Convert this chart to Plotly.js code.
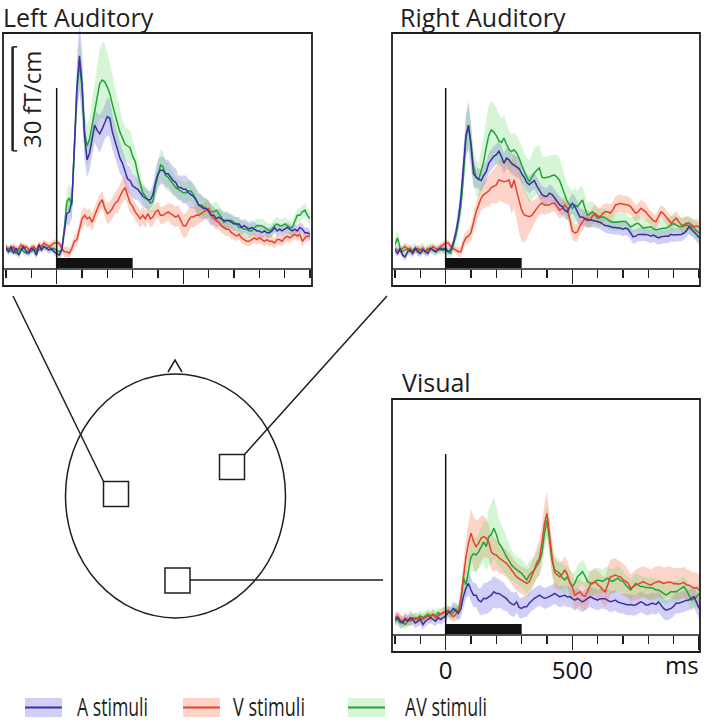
<!DOCTYPE html>
<html>
<head>
<meta charset="utf-8">
<script src="https://cdn.plot.ly/plotly-3.0.1.min.js"></script>
<style>html,body{margin:0;padding:0;background:#fff}</style>
</head>
<body>
<div id="chart" style="width:708px;height:723px"></div>
<script>
// time axis in ms
const time = [-200,-190,-180,-170,-160,-150,-140,-130,-120,-110,
  -100,-90,-80,-70,-60,-50,-40,-30,-20,-10,
  0,10,20,30,40,50,60,70,80,90,
  100,110,120,130,140,150,160,170,180,190,
  200,210,220,230,240,250,260,270,280,290,
  300,310,320,330,340,350,360,370,380,390,
  400,410,420,430,440,450,460,470,480,490,
  500,510,520,530,540,550,560,570,580,590,
  600,610,620,630,640,650,660,670,680,690,
  700,710,720,730,740,750,760,770,780,790,
  800,810,820,830,840,850,860,870,880,890,
  900,910,920,930,940,950,960,970,980,990,
  1000];

// ---- Left Auditory (fT/cm) ----
const leftA = [0.5,-0.5,1,-1,0.5,-1.5,0,1,-0.5,-1,
  0.5,0,-1.5,1.5,0,1,0.5,0,0.5,-0.5,
  -1,-1.5,0,5,10.5,11,14,30,47,56,
  48,33,26,28,32,36,34.5,33.5,35,37,
  38.5,38,34,31.5,29,26.5,25,22.5,20.5,20,
  18.5,18,17.5,16.5,15.5,15,14.5,14.5,16,19.5,
  22,23,23,22,22,21,20,19.5,18,18,
  17.5,17.5,16.5,16,15.5,14.5,13,12.5,12,12,
  11,10,10,9,9.5,9,8.5,8.5,8.5,8,
  7.5,7.5,7.5,6.5,7,6.5,6,6.5,6,5.5,
  5.5,5,5.5,5,5,5.5,6.5,5.5,6,5.5,
  6,6.5,6,5.5,6,5.5,6.5,6,5,5,
  4.5];
const leftV = [1,0,0.5,1,0,0.5,1.5,0.5,1,0,
  0.5,1,0,1.5,1,2,1.5,1,1.5,2,
  2,2,0.5,-0.5,-0.5,-1,0.5,2.5,3,6,
  9,10,9,9.5,8,10,12,13.5,14.5,12,
  10.5,11,12,13.5,14,15.5,17,18,16,13.5,
  12.5,11,10,9,10,9,10.5,9,9.5,11,
  11.5,10,10,10.5,11,10.5,10,9.5,10,8.5,
  7,7,8.5,9.5,9.5,10,10,10.5,11,11.5,
  12,10,9,8.5,8,7,6.5,6,6,5,
  4.5,4,4.5,3.5,3,2.5,2.5,3,3.5,3,
  3.5,3,2.5,3,2.5,2.5,2,3,3,2.5,
  3.5,4,3.5,4,4.5,4,4.5,2.5,3.5,4,
  4];
const leftAV = [0,0.5,-0.5,0.5,-1,0,0.5,-0.5,-1,0,
  -0.5,0.5,-1,0,0.5,1,0.5,1,0,0.5,
  0,-0.5,0,6,14,15,13,28,46,54,
  47,34,30,32,36,40,44,48,49,48.5,
  47,45,42,39,36.5,34,32,30.5,30,29.5,
  27,25.5,22,18.8,16.5,15.5,14.5,13.5,14,18.5,
  21.5,24.5,24,21.5,21,20,19,18,17.5,17,
  16.5,16.5,17,17,16,14.5,13,13,12.5,12,
  11.5,11,11,11.5,10.5,9.5,8,8.5,8.5,8.5,
  8,7.5,6.5,6.5,6,6,5.5,5.5,6.5,7,
  7,7,6.5,6,5.5,6,7,7.5,7,7,
  7.5,7,6.5,6.5,8.5,10,10,11,11.5,10,
  9];
const leftA_sem = [1,1.2,1,0.8,1,1.2,1,1,0.8,1,
  1,1.2,1,1,0.8,1,1,1.2,1,1,
  1,1.2,1.5,2,3,4,4.5,5,8,10,
  10,7,5,5,5,5,5,5.5,5,5,
  5.5,5.5,5,5,4.5,4.5,4,4,4,4,
  3.5,3.5,3,3,3,3,2.5,2.5,3,3.5,
  4,4,4,4,4,4,4,4,3.5,3.5,
  4,4,4,4,3.5,3.5,3.5,3.5,3,3,
  3,3,2.5,2.5,2.5,2.5,2.5,2.5,2,2,
  2,2,2,2,2,2,2,2,2,2,
  2,2,1.5,1.5,1.5,1.5,1.5,1.5,1.5,1.5,
  1.5,1.5,1.5,1.5,1.5,1.5,1.5,1.5,1.5,1.5,
  1.5];
const leftV_sem = [1,1,1,1,1,1,1,1,1,1,
  1,1,1,1,1,1,1,1,1,1,
  1,1,1,1.5,1.5,1.5,1.5,2,2,2,
  2.5,2.5,2.5,2.5,2.5,2.5,2.5,2.5,2.5,2.5,
  3,3,3,3,3.5,3.5,3.5,3.5,3,3,
  2.5,2.5,2.5,2.5,2.5,2.5,2.5,2.5,2.5,2.5,
  2.5,2.5,2.5,2.5,2.5,3,3,3,3,3,
  3.5,3.5,3.5,3,3,3,2.5,2.5,2.5,2.5,
  2.5,2.5,2.5,2.5,2,2,2,2,2,2,
  1.5,1.5,1.5,1.5,1.5,1.5,1.5,1.5,1.5,1.5,
  1.5,1.5,1.5,1.5,1.5,1.5,1.5,1.5,1.5,1.5,
  1.5,1.5,1.5,1.5,1.5,1.5,1.5,1.5,1.5,1.5,
  1.5];
const leftAV_sem = [1,1,1,1,1,1,1,1,1,1,
  1,1,1,1,1,1,1,1,1,1,
  1,1,1.5,2,3,4,4.5,5,6,7,
  7,6,6,6,7,8,9,10,11,11,
  10,9,8.5,8,7,6,5.5,5,5,5,
  4.5,4,4,3.5,3,3,3,3,3,3.5,
  4.5,4.5,4.5,4,4,3.5,3.5,3,3,3,
  3,3,3,3,3,3,3,3,3,3,
  2.5,2.5,2.5,2.5,2.5,2.5,2.5,2.5,2,2,
  2,2,2,2,2,2,2,2,2,2,
  2,2,2,2,2,2,2,2,2,2,
  2,2,2,2,2,2,2,2,2,2,
  2];

// ---- Right Auditory ----
const rightA = [0,-1,0.5,-1.5,-2,-0.5,0,-1,0.5,-0.5,
  -1,0,-0.5,-1,0.5,0,-0.5,0,0.5,0,
  0.5,-0.5,0,2,5,9,15,24,33,36,
  30,22,21,20.5,20,21.5,22.5,25,26,27,
  27.5,28.5,27,25,26.5,26,25,24.5,24,23.5,
  22,21,19.5,18.8,19.5,20,18.5,17.3,16,15.5,
  15.5,16.4,16,15,14,13,12.5,11.5,11,12.5,
  13.5,12.5,11,9.5,9.5,9,8.5,8.7,8.5,8.5,
  8.2,8,7.5,7,7,6.7,6.5,6.5,6.5,6.3,
  6,6.3,6,5,3.8,4,4.5,4.5,4.6,4.5,
  4.3,4,4.3,4,3.5,3.8,4,4,4,4.5,
  4.3,4.3,4.5,4.5,4.9,5.5,6.7,6,5.3,4.5,
  3.5];
const rightV = [0.5,0,-0.5,0.5,1,0,0.5,-0.5,0,0.5,
  0,0.5,-0.5,0.5,0,1,0.5,0,1,1.5,
  2,2,1,0.5,0,-0.5,-0.5,2,3.5,4,
  5,8,11,13,15,16,16.5,17,18,18.5,
  18.8,20.2,20,19.7,19.8,20.2,17.9,20.2,17,14,
  11.5,10.1,9.8,9.6,10,11,12,13,13.5,13,
  13,13,13.5,13.5,12.5,11.5,12,13,12,8.5,
  5.5,4.9,5.2,7,8,9.2,9,8.7,9.8,10.6,
  9.8,9.6,10.5,11,11,10.6,11.5,13,13.2,13.5,
  13.2,13,13,12.5,11.5,10.6,11,12,11.5,11,
  10,9.2,8.5,8.2,9.5,11,10.5,9.6,8.5,7.7,
  8.5,9.2,8.2,7.2,7.3,7.7,7.7,7.2,6.7,7,
  6.5];
const rightAV = [1.5,3.5,0.5,-0.5,0,0.5,-0.5,0,0.5,-0.5,
  0,0.5,-0.5,0,0.5,0,-0.5,0.5,0,0.5,
  0,-0.5,-1,1.5,4,8,12.5,21,32,36,
  31,24,21,20.2,22.5,25.5,29.5,33,34.6,34,
  33,31.5,31,32.3,30.5,29,28.4,28.9,28,26.5,
  24.5,22.5,21,19.7,21,22.2,23,23.7,21,20.8,
  21,21.1,21.5,21.6,21,20,18,16,14,13,
  12,13,12.5,13.5,14.4,12,10,10.5,11,10,
  9.2,9.4,9.6,9.3,8.7,8.2,8,7.9,8,8.2,
  8.2,8.2,7.5,6.7,7,7.5,7.7,7,6.3,6.5,
  6.7,6.7,6.2,5.8,6,6.2,6.3,6.3,6.8,7.3,
  7.7,7.2,6.8,6.7,7,7.2,7,6.6,6.3,5.5,
  4.9];
const rightA_sem = [1,1,1,1,1,1,1,1,1,1,
  1,1,1,1,1,1,1,1,1,1,
  1,1,1,1.5,2,3,4,5,6,7,
  6,4,3,3,3,3,3,3,3,3,
  3,3,3,3,3,3,3,3,3,3,
  2.5,2.5,2.5,2.5,2.5,2.5,2.5,2.5,2.5,2.5,
  2.5,2.5,2.5,2.5,2.5,2.5,2.5,2.5,2.5,2.5,
  3,3,3,2.5,2.5,2,2,2,2,2,
  2,2,2,2,2,2,2,2,2,2,
  2,2,2,2,2,2,2,2,2,2,
  2,2,2,2,2,2,2,2,2,2,
  2,2,2,2,2,2,2,2,2,2,
  2];
const rightV_sem = [1,1,1,1,1,1,1,1,1,1,
  1,1,1,1,1,1,1,1,1,1,
  1,1,1,1,1,1.5,1.5,2,2,2,
  2.5,3,3,3.5,3.5,4,4,4.5,4.5,5,
  5.5,6,6,6,6.5,7,7.5,8,8.5,9,
  9,8,6.5,5,4,3.5,3,3,3,3,
  2.5,2.5,2.5,2.5,2.5,2.5,2.5,2.5,2.5,2.5,
  2.5,2.5,2.5,2.5,2.5,2.5,2.5,2.5,2.5,2.5,
  2.5,2.5,2.5,2.5,2.5,2.5,2.5,2.5,2.5,2.5,
  2.5,2.5,2.5,2.5,2.5,2.5,2.5,2.5,2.5,2.5,
  2,2,2,2,2,2,2,2,2,2,
  2,2,2,2,2,2,2,2,2,2,
  2];
const rightAV_sem = [1.5,2.5,1.5,1.5,1.5,1.5,1.5,1.5,1.5,1.5,
  1.5,1.5,1.5,1.5,1.5,1.5,1.5,1.5,1.5,1.5,
  1.5,1.5,1.5,2,2.5,3,4,5,6,6,
  6,5,5,5,6,7,8,8.5,8.5,8,
  8,7.5,7,6.5,6,5.5,5,5,5,5,
  5.5,5.5,5.5,6,6.5,7,7,6.5,6,6,
  6,6,6,6,6.5,6.5,6,5.5,5,5,
  5,5,4.5,4.5,4,4,3.5,3.5,3,3,
  2.5,2.5,2.5,2.5,2.5,2.5,2.5,2.5,2.5,2.5,
  2.5,2.5,2.5,2.5,2.5,2.5,2.5,2.5,2.5,2.5,
  2.5,2.5,2.5,2.5,2.5,2.5,2.5,2.5,2.5,2.5,
  2.5,2.5,2.5,2.5,2.5,2.5,2.5,2.5,2.5,2.5,
  2.5];

// ---- Visual ----
const visualA = [-1,-0.5,-1.5,-2,-1,-1.5,-0.5,-1,-2,-1.5,
  -1,-2.5,-1.5,-1,-0.5,-1,-1.5,-0.5,-1,-0.5,
  0,1,1.2,2.2,1.5,0.8,2,5.6,8,9.4,
  7.5,6,6,4.5,4.1,5.1,5,5.6,6,7,
  6.5,6.5,6,5.6,5,4.1,3.5,3.2,4.1,2.5,
  2.2,2.7,2.7,3.7,4.5,5.1,5.5,6,5.5,5.1,
  5.3,5.6,6,6.5,6,5.5,5.8,6,5.5,5.6,
  5,4.6,5.1,4.6,4.1,4.5,5.1,5.6,5.2,4.8,
  4.6,5,5.1,5,4.5,4.1,4.3,4.6,4,3.8,
  3.7,3.5,3.2,3.3,3.1,3.2,3.6,4.1,3.8,3.2,
  3.2,3.6,3.7,3.3,4.1,3,2.2,1.7,1.9,2.2,
  2.8,3.7,3.7,4,4.1,4.5,4.6,5,5.6,4,
  2.2];
const visualV = [-0.5,0,-1,-1.5,-0.5,-1,-1.5,-1,-0.5,-1,
  -0.5,-1,-0.5,0,-0.5,0.5,-0.5,0,0.5,1,
  1.2,1.7,0.5,-0.2,0.5,1.2,5,11.3,17,21,
  23.9,21.5,20,21,22.4,22.9,22.5,21.4,18.5,17.8,
  17.6,16.8,16.2,15.7,15.2,14.3,13.3,12,11.3,10.8,
  10.4,9.8,9.4,9.9,11.5,13.3,15.5,16.6,21,26.7,
  29.6,23,17,12.5,11.8,11.3,12,13.3,12,9.5,
  8.5,6,6.5,7,6,5.6,7,8.9,9.5,9.9,
  9,8.5,7.5,7,9,11.3,11.5,11.8,11.5,11.3,
  10.5,9.9,9.5,8,8.5,8.9,9.2,9.6,9.9,9.5,
  9.2,8.9,9.4,9.7,10,9.8,9.4,9.6,9.8,9.7,
  9.3,9.4,9.2,9.4,9.7,9,8.9,8.5,8,8.2,
  7.5];
const visualAV = [-1.5,-1,-2,-1.5,-2.5,-1.5,-1,-0.5,-1,-0.5,
  0,-0.5,0,0.5,0,0.5,0,1,0.5,1,
  1,1.5,0.5,1,2,1.2,4,11,9,13,
  17,18,17.6,18.5,20,21.4,20,22.9,23.5,25.3,
  23.5,21,20,18.5,17.1,16,14.7,14,13.3,12.8,
  12.3,11.5,10.4,11.8,12.5,13.3,14.5,15.7,18.1,23.9,
  27.7,22,16,13.3,12.8,12.3,11,10.4,11.3,10,
  8.5,9.5,11.3,12,12.8,11.5,9.9,9.5,9.4,10,
  10.4,10.2,10,10.5,10.9,10.2,10,10.5,10.9,10.2,
  10,9,8.2,7.5,8.5,9.4,9,8.5,8.5,8.2,
  8.2,8,8,7.5,7.5,7,6.5,6,6.5,7,
  7,7,7.5,8,8.5,7.5,6,4.6,5,5.5,
  6.5];
const visualA_sem = [1.5,1.5,2,1.5,1.5,1.5,2,1.5,1.5,1.5,
  1.5,1.5,1.5,1.5,1.5,1.5,1.5,1.5,1.5,1.5,
  1.5,1.5,1.5,2,2,2,2.5,3,3,3.5,
  3.5,3.5,3.5,3.5,4,4.5,4.5,4.5,4.5,4.5,
  4.5,4,4,4,3.5,3.5,3.5,3.5,3,3,
  3,3,3,3,3,3,3,3,3,3,
  3,3,3,3,3,3,3,3,3,3,
  3,3,3,3,3,3,3,3,3,3,
  3,3,3,3,3,3,3,3,3,3,
  3,3,3,3,3,3,3,3,3,3,
  3,3,3,3,3,3,3,3,3,3,
  3,3,3,3,3,3,3,3,3,3,
  3];
const visualV_sem = [1.5,1.5,1.5,1.5,1.5,1.5,1.5,1.5,1.5,1.5,
  1.5,1.5,1.5,1.5,1.5,1.5,1.5,1.5,1.5,1.5,
  1.5,1.5,1.5,1.5,2,2,3,4,5,6,
  7,7.5,7.5,7,6.5,6,5.5,5,5,5,
  4.5,4.5,4,4,4,4,4,4,4,4,
  4,4,4,4,4,4,4.5,5,5.5,6,
  6,5.5,5,4.5,4,4,4,4,4,4,
  4,4,4,4,4,4,4,4,4,4,
  4,4,4,4.5,5,5,5,5,4.5,4.5,
  4.5,4.5,4,4,4,4.5,4.5,4.5,4.5,4.5,
  4.5,4.5,4.5,4.5,4.5,4.5,4.5,4.5,4.5,4.5,
  4.5,4.5,4.5,4.5,4.5,4.5,4.5,4.5,4.5,4.5,
  4.5];
const visualAV_sem = [1.5,1.5,1.5,1.5,1.5,1.5,1.5,1.5,1.5,1.5,
  1.5,1.5,1.5,1.5,1.5,1.5,1.5,1.5,1.5,1.5,
  1.5,1.5,2,2,2,2,3,4,4,4.5,
  4.5,5,5,5,5.5,6,7,8,9,9,
  8,7,6.5,6,5.5,5,4.5,4,4,4,
  4,4,4,4,4,4,4,4,4.5,5,
  5,4.5,4,4,4,4,4,4,3.5,3.5,
  3.5,3.5,3.5,3.5,3.5,3.5,3.5,3.5,3.5,3.5,
  3.5,3.5,3.5,3.5,3.5,3.5,3.5,3.5,3.5,3.5,
  3,3,3,3,3,3,3,3,3,3,
  3,3,3,3,3,3,3,3,3,3,
  3,3,3,3,3,3,3,3,3,3,
  3];

const stimulus = [0, 300];           // ms, black bar
const scaleBar = 30;                 // fT/cm
const tickVals = [0, 500, 1000];
const tickText = ['0', '500', ''];
const legendNames = ['A stimuli', 'V stimuli', 'AV stimuli'];

// ---- styling ----
const W = 708, H = 723;
const px = v => v / W;
const py = v => 1 - v / H;
const FONT = 'Open Sans, sans-serif';
const INK = '#1e1e1e';

const colA = '#3b2fa5', colV = '#e8412b', colAV = '#22a33a';
const fillA = 'rgba(105,95,225,0.30)', fillV = 'rgba(245,125,85,0.32)', fillAV = 'rgba(95,215,95,0.26)';

// y scale: 30 fT/cm = 104 px, baseline 19 px above axis line
const k = 30 / 104;
const yRange = [-19 * k, 235 * k];
const onsetTop = 162 * k;
const barY = [-18 * k, -8 * k];

const panels = [
  {title: 'Left Auditory', A: leftA, V: leftV, AV: leftAV, sA: leftA_sem, sV: leftV_sem, sAV: leftAV_sem,
   xa: 'x', ya: 'y', xd: [6, 310], yd: [15, 269], box: [3, 33, 312, 286], tpos: [2, 17], labels: false},
  {title: 'Right Auditory', A: rightA, V: rightV, AV: rightAV, sA: rightA_sem, sV: rightV_sem, sAV: rightAV_sem,
   xa: 'x2', ya: 'y2', xd: [395, 699], yd: [15, 269], box: [392, 33, 700, 286], tpos: [399, 17], labels: false},
  {title: 'Visual', A: visualA, V: visualV, AV: visualAV, sA: visualA_sem, sV: visualV_sem, sAV: visualAV_sem,
   xa: 'x3', ya: 'y3', xd: [395, 699], yd: [381, 635], box: [392, 399, 700, 652], tpos: [401, 382], labels: true}
];

function band(mean, sem, color, xa, ya) {
  const up = mean.map((m, i) => m + sem[i]);
  const lo = mean.map((m, i) => m - sem[i]).reverse();
  return {x: time.concat(time.slice().reverse()), y: up.concat(lo), xaxis: xa, yaxis: ya,
    mode: 'lines', fill: 'toself', fillcolor: color, line: {width: 0}, hoverinfo: 'skip', showlegend: false};
}
function curve(mean, color, xa, ya) {
  return {x: time, y: mean, xaxis: xa, yaxis: ya, mode: 'lines',
    line: {color: color, width: 1.5}, hoverinfo: 'skip', showlegend: false};
}

const data = [];
const shapes = [];
const annotations = [];
const layout = {
  width: W, height: H, autosize: false,
  margin: {l: 0, r: 0, t: 0, b: 0},
  paper_bgcolor: '#fff', plot_bgcolor: 'rgba(0,0,0,0)',
  font: {family: FONT, color: INK, size: 24},
  showlegend: false
};

panels.forEach((p, n) => {
  data.push(band(p.A, p.sA, fillA, p.xa, p.ya));
  data.push(band(p.V, p.sV, fillV, p.xa, p.ya));
  data.push(band(p.AV, p.sAV, fillAV, p.xa, p.ya));
  data.push(curve(p.AV, colAV, p.xa, p.ya));
  data.push(curve(p.V, colV, p.xa, p.ya));
  data.push(curve(p.A, colA, p.xa, p.ya));

  const suffix = n === 0 ? '' : String(n + 1);
  layout['xaxis' + suffix] = {
    domain: [px(p.xd[0]), px(p.xd[1])], range: [-200, 1000], anchor: p.ya,
    showgrid: false, zeroline: false, showline: false, fixedrange: true,
    tickmode: 'array', tickvals: tickVals, ticktext: tickText,
    ticks: 'outside', ticklen: 14, tickwidth: 1.5, tickcolor: INK,
    showticklabels: p.labels, tickfont: {family: FONT, size: 24, color: '#111'},
    minor: {tickmode: 'linear', tick0: 0, dtick: 100, ticks: 'outside', ticklen: 8, tickwidth: 1.5, tickcolor: INK}
  };
  layout['yaxis' + suffix] = {
    domain: [py(p.yd[1]), py(p.yd[0])], range: yRange, anchor: p.xa,
    visible: false, fixedrange: true
  };

  // panel frame and axis line
  shapes.push({type: 'rect', xref: 'paper', yref: 'paper', x0: px(p.box[0]), x1: px(p.box[2]),
    y0: py(p.box[3]), y1: py(p.box[1]), line: {color: INK, width: 1.8}});
  shapes.push({type: 'line', xref: 'paper', yref: 'paper', x0: px(p.box[0]), x1: px(p.box[2]),
    y0: py(p.yd[1]), y1: py(p.yd[1]), line: {color: INK, width: 1.5}});
  // stimulus onset and duration
  shapes.push({type: 'line', xref: p.xa, yref: p.ya, x0: 0, x1: 0, y0: yRange[0], y1: onsetTop,
    line: {color: '#111', width: 1.5}});
  shapes.push({type: 'rect', xref: p.xa, yref: p.ya, x0: stimulus[0], x1: stimulus[1], y0: barY[0], y1: barY[1],
    fillcolor: '#111', line: {width: 0}});

  annotations.push({text: p.title, xref: 'paper', yref: 'paper', x: px(p.tpos[0]), y: py(p.tpos[1]),
    xanchor: 'left', yanchor: 'middle', borderpad: 0, showarrow: false,
    font: {family: FONT, size: 25, color: INK}});
});

// scale bar in Left Auditory
const sbX = -174, sbCap = -156, sbY0 = 28.6;
shapes.push({type: 'line', xref: 'x', yref: 'y', x0: sbX, x1: sbX, y0: sbY0, y1: sbY0 + scaleBar, line: {color: INK, width: 2.5}});
shapes.push({type: 'line', xref: 'x', yref: 'y', x0: sbX, x1: sbCap, y0: sbY0, y1: sbY0, line: {color: INK, width: 1.5}});
shapes.push({type: 'line', xref: 'x', yref: 'y', x0: sbX, x1: sbCap, y0: sbY0 + scaleBar, y1: sbY0 + scaleBar, line: {color: INK, width: 1.5}});
annotations.push({text: scaleBar + ' fT/cm', xref: 'x', yref: 'y', x: -97, y: sbY0 + scaleBar / 2,
  textangle: -90, showarrow: false, font: {family: FONT, size: 24, color: INK}});

// time unit
annotations.push({text: 'ms', xref: 'paper', yref: 'paper', x: px(701), y: py(664),
  xanchor: 'right', yanchor: 'middle', showarrow: false, font: {family: FONT, size: 24, color: '#111'}});

// head diagram with sensor locations
const head = {cx: 175.5, cy: 496, rx: 110, ry: 122};
shapes.push({type: 'circle', xref: 'paper', yref: 'paper', x0: px(head.cx - head.rx), x1: px(head.cx + head.rx),
  y0: py(head.cy + head.ry), y1: py(head.cy - head.ry), line: {color: INK, width: 1.5}});
shapes.push({type: 'path', xref: 'paper', yref: 'paper',
  path: `M ${px(168)} ${py(372)} L ${px(175)} ${py(360)} L ${px(182)} ${py(372)}`, line: {color: INK, width: 1.5}});
const sensors = [
  {sq: [103.5, 481.5], from: [103.5, 481.5], to: [13, 296]},
  {sq: [219.5, 454.5], from: [244.5, 454.5], to: [387, 296]},
  {sq: [165, 568], from: [190, 580], to: [383, 580]}
];
sensors.forEach(s => {
  shapes.push({type: 'rect', xref: 'paper', yref: 'paper', x0: px(s.sq[0]), x1: px(s.sq[0] + 25),
    y0: py(s.sq[1] + 25), y1: py(s.sq[1]), line: {color: INK, width: 1.5}});
  shapes.push({type: 'line', xref: 'paper', yref: 'paper', x0: px(s.from[0]), x1: px(s.to[0]),
    y0: py(s.from[1]), y1: py(s.to[1]), line: {color: INK, width: 1.5}});
});

// legend (narrow type, as in the figure)
const legendX = [25, 183, 348];
const legendTextX = [77, 233, 405];
const legendTextLen = [71, 72, 82];
const legendFill = [fillA, fillV, fillAV];
const legendLine = [colA, colV, colAV];
legendNames.forEach((name, i) => {
  shapes.push({type: 'rect', xref: 'paper', yref: 'paper', x0: px(legendX[i]), x1: px(legendX[i] + 37),
    y0: py(717), y1: py(698), fillcolor: legendFill[i], line: {width: 0}});
  shapes.push({type: 'line', xref: 'paper', yref: 'paper', x0: px(legendX[i]), x1: px(legendX[i] + 37),
    y0: py(707.5), y1: py(707.5), line: {color: legendLine[i], width: 2}});
  annotations.push({text: name, xref: 'paper', yref: 'paper', x: px(legendTextX[i] - 2), y: py(706),
    xanchor: 'left', yanchor: 'middle', align: 'left', showarrow: false,
    font: {family: FONT, size: 25, color: INK}});
});

layout.shapes = shapes;
layout.annotations = annotations;

Plotly.newPlot('chart', data, layout, {displayModeBar: false, staticPlot: true}).then(gd => {
  gd.querySelectorAll('.annotation-text').forEach(t => {
    const i = legendNames.indexOf(t.textContent);
    if (i >= 0) {
      t.setAttribute('textLength', legendTextLen[i]);
      t.setAttribute('lengthAdjust', 'spacingAndGlyphs');
    }
  });
});
</script>
</body>
</html>
